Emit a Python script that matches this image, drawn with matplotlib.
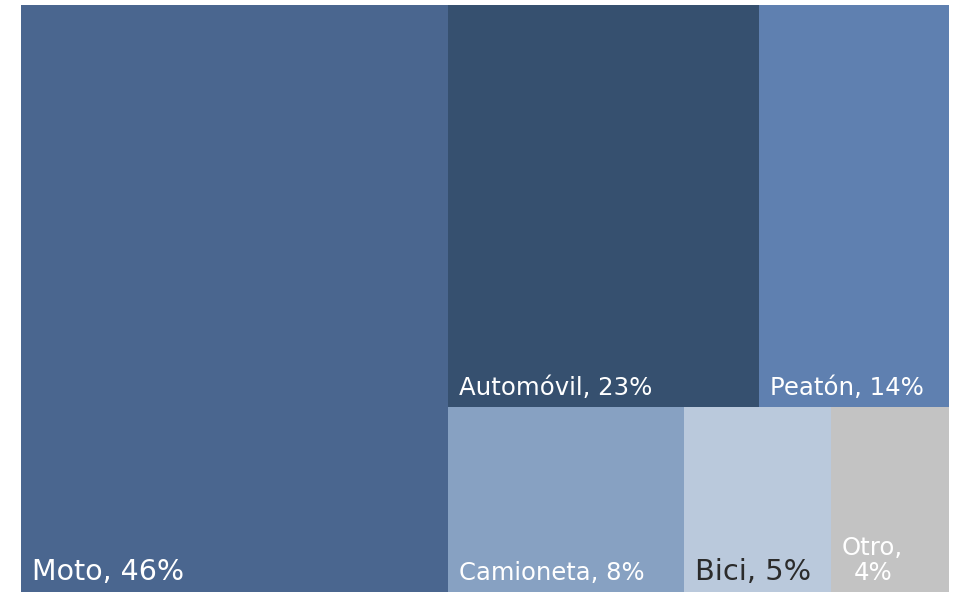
import matplotlib
matplotlib.use("Agg")
import matplotlib.pyplot as plt
from matplotlib.patches import Rectangle

categories = ["Moto", "Automóvil", "Peatón", "Camioneta", "Bici", "Otro"]
values = [46, 23, 14, 8, 5, 4]
labels = ["Moto, 46%", "Automóvil, 23%", "Peatón, 14%", "Camioneta, 8%", "Bici, 5%", "Otro,\n4%"]
colors = ["#4a668f", "#36506f", "#5f80b0", "#87a1c2", "#bac9dc", "#c3c3c3"]
text_colors = ["white", "white", "white", "white", "#2b2b2b", "white"]
font_sizes = [20.5, 17.6, 17.6, 17.5, 20.8, 17.6]

# layout structure: first item as a full-height column, remaining split into two rows
groups = [[0], [[1, 2], [3, 4, 5]]]

total = sum(values)
rects = {}
col_w = values[0] / total
rects[0] = (0.0, 0.0, col_w, 1.0)
rest_x = col_w
rest_w = 1.0 - col_w
rest_total = total - values[0]
y0 = 0.0
for row in groups[1]:
    row_sum = sum(values[i] for i in row)
    h = row_sum / rest_total
    xx = rest_x
    for i in row:
        w = rest_w * values[i] / row_sum
        rects[i] = (xx, y0, w, h)
        xx += w
    y0 += h

fig = plt.figure(figsize=(9.58, 5.92), dpi=100)
ax = fig.add_axes([21 / 958, 0, 928 / 958, 587 / 592])
ax.set_xlim(0, 1)
ax.set_ylim(1, 0)
ax.axis("off")

for i in range(len(values)):
    x, y, w, h = rects[i]
    ax.add_patch(Rectangle((x, y), w, h, facecolor=colors[i], edgecolor="none", linewidth=0))
    ax.annotate(labels[i], xy=(x, y + h), xytext=(11, 12), textcoords="offset pixels",
                ha="left", va="baseline", multialignment="center",
                color=text_colors[i], fontsize=font_sizes[i], family="DejaVu Sans",
                linespacing=1.05)

fig.savefig("out.png", dpi=100)
